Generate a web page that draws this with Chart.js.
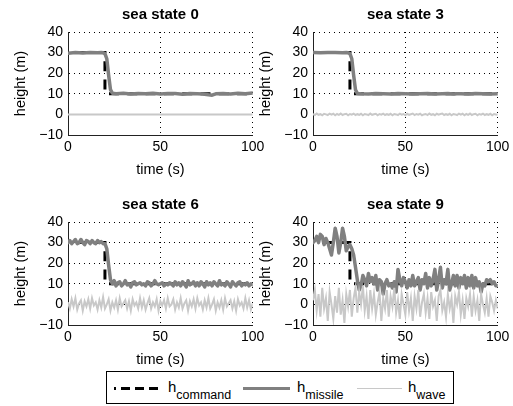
<!DOCTYPE html>
<html>
<head>
<meta charset="utf-8">
<script src="https://cdn.jsdelivr.net/npm/chart.js@4/dist/chart.umd.min.js"></script>
<style>
  body { margin: 0; background: #fff; }
  #wrap { position: relative; width: 513px; height: 406px; overflow: hidden; font-family: "Liberation Sans", Arial, sans-serif; }
  #wrap canvas { position: absolute; }
  #legend { position: absolute; left: 106px; top: 371px; width: 346px; height: 31px; border: 1px solid #000; }
  .sw { position: absolute; }
  .lbl { position: absolute; top: 379px; font-size: 15px; line-height: 15px; color: #000; white-space: nowrap; }
  .lbl sub { font-size: 12.5px; vertical-align: -6.5px; line-height: 0; }
</style>
</head>
<body>
<div id="wrap">
  <canvas id="c0" width="268" height="180" style="left:0px;top:0px"></canvas>
  <canvas id="c1" width="268" height="180" style="left:245px;top:0px"></canvas>
  <canvas id="c2" width="268" height="180" style="left:0px;top:190px"></canvas>
  <canvas id="c3" width="268" height="180" style="left:245px;top:190px"></canvas>
  <div id="legend"></div>
  <div class="sw" style="left:114px;top:387px;width:44px;height:3px;background:repeating-linear-gradient(to left,#000 0 9px,transparent 9px 14px)"></div>
  <span class="lbl" style="left:168px">h<sub>command</sub></span>
  <div class="sw" style="left:243px;top:387px;width:47px;height:3px;background:#808080"></div>
  <span class="lbl" style="left:297px">h<sub>missile</sub></span>
  <div class="sw" style="left:357px;top:387.5px;width:45px;height:1.5px;background:#c8c8c8"></div>
  <span class="lbl" style="left:408px">h<sub>wave</sub></span>
</div>
<script>
// axis ticks
var X_TICKS = [0, 50, 100];
var Y_TICKS = [-10, 0, 10, 20, 30, 40];
var TITLES = ['sea state 0', 'sea state 3', 'sea state 6', 'sea state 9'];

// commanded height (same in every panel)
var cmdT = [0, 20, 20, 100];
var cmdH = [30, 30, 10, 10];

// one sample per second
var SECONDS = [0,1,2,3,4,5,6,7,8,9,10,11,12,13,14,15,16,17,18,19,20,21,22,23,24,25,26,27,28,29,30,
  31,32,33,34,35,36,37,38,39,40,41,42,43,44,45,46,47,48,49,50,51,52,53,54,55,56,57,58,59,60,
  61,62,63,64,65,66,67,68,69,70,71,72,73,74,75,76,77,78,79,80,81,82,83,84,85,86,87,88,89,90,
  91,92,93,94,95,96,97,98,99,100];

// sea state 0
var ss0MissileT = [0, 4, 8, 12, 16, 18, 19, 20, 21, 22, 23, 24, 26, 30, 34, 38, 42, 46, 50, 54, 58, 62, 66, 70, 73, 76, 78, 80, 84, 88, 92, 96, 100];
var ss0Missile = [29.7, 30.0, 29.8, 30.1, 29.9, 30.0, 29.9, 29.5, 27, 19, 12, 10.3, 10.0, 10.3, 9.9, 10.2, 10.0, 10.3, 9.9, 10.1, 10.2, 9.8, 10.1, 10.0, 9.9, 9.5, 9.3, 10.0, 10.2, 9.9, 10.3, 10.0, 10.4];
var ss0WaveT = [0, 100];
var ss0Wave = [0, 0];

// sea state 3
var ss3MissileT = [0, 4, 8, 12, 16, 18, 19, 20, 21, 22, 23, 24, 26, 30, 34, 38, 42, 46, 50, 54, 58, 62, 66, 70, 73, 76, 78, 80, 84, 88, 92, 96, 100];
var ss3Missile = [30.0, 29.9, 30.1, 30.0, 29.9, 30.0, 29.9, 29.5, 27, 19, 12, 10.2, 10.0, 9.9, 10.1, 10.0, 9.9, 10.1, 10.0, 9.9, 10.0, 10.1, 9.9, 10.0, 10.1, 9.9, 10.0, 10.0, 9.9, 10.1, 10.0, 9.9, 10.0];
var ss3Wave = [0.2, -0.3, 0.4, -0.2, 0.1, -0.4, 0.3, 0, -0.3, 0.4,
  -0.1, 0.3, -0.4, 0.2, -0.2, 0.4, -0.3, 0.1, 0.3, -0.4,
  0.2, -0.1, 0.4, -0.3, 0.1, -0.2, 0.3, -0.4, 0.2, 0,
  -0.3, 0.4, -0.2, 0.1, 0.3, -0.4, 0.2, -0.1, 0.4, -0.3,
  0.1, -0.2, 0.3, -0.4, 0.2, 0, -0.3, 0.4, -0.1, 0.2,
  -0.4, 0.3, -0.2, 0.1, 0.4, -0.3, 0.2, -0.1, 0.3, -0.4,
  0, 0.2, -0.3, 0.4, -0.2, 0.1, -0.4, 0.3, -0.1, 0.2,
  0.4, -0.3, 0.1, -0.2, 0.3, -0.4, 0.2, 0, -0.3, 0.4,
  -0.1, 0.3, -0.4, 0.2, -0.2, 0.4, -0.3, 0.1, 0.3, -0.4,
  0.2, -0.1, 0.4, -0.3, 0.1, -0.2, 0.3, -0.4, 0.2, 0,
  -0.2];

// sea state 6
var ss6Missile = [30, 31, 29.5, 30.5, 31.5, 29.5, 30, 31.5, 30, 29,
  31, 30.5, 29.5, 31, 30, 29.5, 31, 30, 30.5, 29.5,
  29.5, 27, 19, 12, 10, 11.5, 9, 10.5, 11, 9,
  10, 11.5, 9.5, 10, 8.5, 10.5, 11, 9.5, 10, 10.5,
  9.5, 10, 9, 11, 10.5, 9, 10, 11.5, 10, 9.5,
  10, 10.5, 9, 10, 9.5, 10.5, 10, 9, 11, 9.5,
  10.5, 9, 11, 10, 8.5, 11.5, 9.5, 10, 11, 9,
  10.5, 9, 11, 10, 8.5, 11, 9.5, 10.5, 9, 11,
  10, 9, 11.5, 9.5, 10, 9, 11, 10, 8.5, 11,
  10, 9, 10.5, 11, 9, 10, 9.5, 10.5, 9, 10,
  9.5];
var ss6Wave = [1, -2, 2.5, -1, 3, -2.5, 0.5, 2, -3, 1.5,
  -1, 2.5, -2, 3, -0.5, 1, -2.5, 2, -1.5, 3.5,
  -2, 0, 2.5, -3, 1, -1.5, 2, -2.5, 3, -1,
  0.5, 2, -2, 1.5, -3, 2.5, -0.5, 1, -2, 3,
  -1.5, 2, -2.5, 0.5, 3, -2, 1, -1, 2.5, -3,
  1.5, -0.5, 2, -2, 3, -1, 0, 2.5, -2.5, 1,
  -1.5, 3, -2, 0.5, 2, -3, 1.5, -1, 2.5, -2,
  3, -0.5, 1, -2.5, 2, -1.5, 3, -2, 0, 2.5,
  -3, 1, -1.5, 2, -2.5, 3, -1, 0.5, 2, -2,
  1.5, -3, 2.5, -0.5, 1, -2, 3, -1.5, 2, -2.5,
  0.5];

// sea state 9
var ss9Missile = [30, 31, 33, 30, 34, 33, 29, 32, 30, 27,
  24, 30, 37, 33, 25, 30, 37, 33, 26, 28,
  29, 27, 24, 18, 12, 7, 9, 14, 12, 9,
  15, 11, 13, 10, 14, 7, 12, 11, 5, 10,
  12, 9, 10, 8, 11, 6, 17, 12, 9, 13,
  11, 8, 12, 9, 14, 9, 11, 13, 7, 12,
  10, 15, 8, 13, 9, 12, 17, 7, 12, 18,
  8, 12, 10, 17, 7, 10, 14, 9, 14, 8,
  13, 10, 14, 8, 13, 9, 14, 8, 13, 9,
  11, 6, 10, 9, 12, 11, 12, 10, 11, 9,
  9];
var ss9Wave = [2, 7, -3, 5, -6, 8, -2, 3, -8, 6,
  0, -7, 4, -4, 8, -5, 2, -9, 5, -1,
  7, -6, 3, 8, -4, 6, 0, 9, -3, 4,
  -7, 7, -2, 5, -5, 1, 6, -8, 3, -2,
  7, -6, 4, -1, 8, -4, 2, -7, 5, 0,
  -5, 6, -3, 3, -8, 4, -2, 7, -6, 1,
  5, -4, 3, -7, 6, -1, 2, -8, 4, 7,
  -3, 1, -6, 5, -2, 3, -9, 4, 0, 6,
  -5, 2, -7, 3, -1, 5, -6, 4, -3, 2,
  -8, 5, 0, -4, 3, -6, 4, 1, -3, 2,
  -2];

var panels = [
  { missileT: ss0MissileT, missile: ss0Missile, waveT: ss0WaveT, wave: ss0Wave },
  { missileT: ss3MissileT, missile: ss3Missile, waveT: SECONDS, wave: ss3Wave },
  { missileT: SECONDS, missile: ss6Missile, waveT: SECONDS, wave: ss6Wave },
  { missileT: SECONDS, missile: ss9Missile, waveT: SECONDS, wave: ss9Wave }
];

function pts(t, h) {
  return t.map(function (x, i) { return { x: x, y: h[i] }; });
}

function fixedTicks(list) {
  return function (scale) {
    scale.ticks = list.map(function (v) { return { value: v }; });
  };
}

Chart.defaults.font.family = '"Liberation Sans", Arial, sans-serif';
Chart.defaults.color = '#000';

panels.forEach(function (p, k) {
  new Chart(document.getElementById('c' + k), {
    type: 'line',
    data: {
      datasets: [
        { label: 'h_wave', data: pts(p.waveT, p.wave), borderColor: '#c8c8c8', borderWidth: 2 },
        { label: 'h_missile', data: pts(p.missileT, p.missile), borderColor: '#808080', borderWidth: 3.5, borderJoinStyle: 'round', borderCapStyle: 'round' },
        { label: 'h_command', data: pts(cmdT, cmdH), borderColor: '#000', borderWidth: 3, borderDash: [10, 8.3], borderDashOffset: 9.3 }
      ]
    },
    options: {
      responsive: false,
      animation: false,
      devicePixelRatio: 1,
      events: [],
      elements: { point: { radius: 0 }, line: { tension: 0 } },
      layout: { padding: { left: 0, right: 14, top: 0, bottom: 0 } },
      plugins: {
        legend: { display: false },
        tooltip: { enabled: false },
        title: { display: false }
      },
      scales: {
        // top axis only carries the panel title, centred over the plot area
        head: {
          type: 'linear',
          position: 'top',
          min: 0, max: 100,
          afterFit: function (scale) { scale.height = 32; },
          grid: { display: false },
          border: { display: false },
          ticks: { display: false },
          title: { display: true, text: TITLES[k], font: { size: 15, weight: 'bold' }, padding: { top: 5.5, bottom: 0 } }
        },
        x: {
          type: 'linear',
          min: 0, max: 100,
          afterBuildTicks: fixedTicks(X_TICKS),
          afterFit: function (scale) { scale.height = 45; },
          grid: { color: '#000', lineWidth: 1, drawTicks: false },
          border: { display: true, color: '#222', width: 1, dash: [1, 4] },
          ticks: { padding: 3.6, font: { size: 14 }, maxRotation: 0, autoSkip: false },
          title: { display: true, text: 'time (s)', font: { size: 14.5 }, padding: { top: 0, bottom: 1.5 } }
        },
        y: {
          type: 'linear',
          min: -10, max: 40,
          afterBuildTicks: fixedTicks(Y_TICKS),
          afterFit: function (scale) { scale.width = 68; },
          grid: { color: '#000', lineWidth: 1, drawTicks: false },
          border: { display: true, color: '#222', width: 1, dash: [1, 4] },
          ticks: {
            padding: 5, font: { size: 14 }, autoSkip: false,
            callback: function (v) { return String(v).replace('-', '\u2212'); }
          },
          title: { display: true, text: 'height (m)', font: { size: 14.5 }, padding: { top: 12, bottom: 0 } }
        }
      }
    }
  });
});
</script>
</body>
</html>
